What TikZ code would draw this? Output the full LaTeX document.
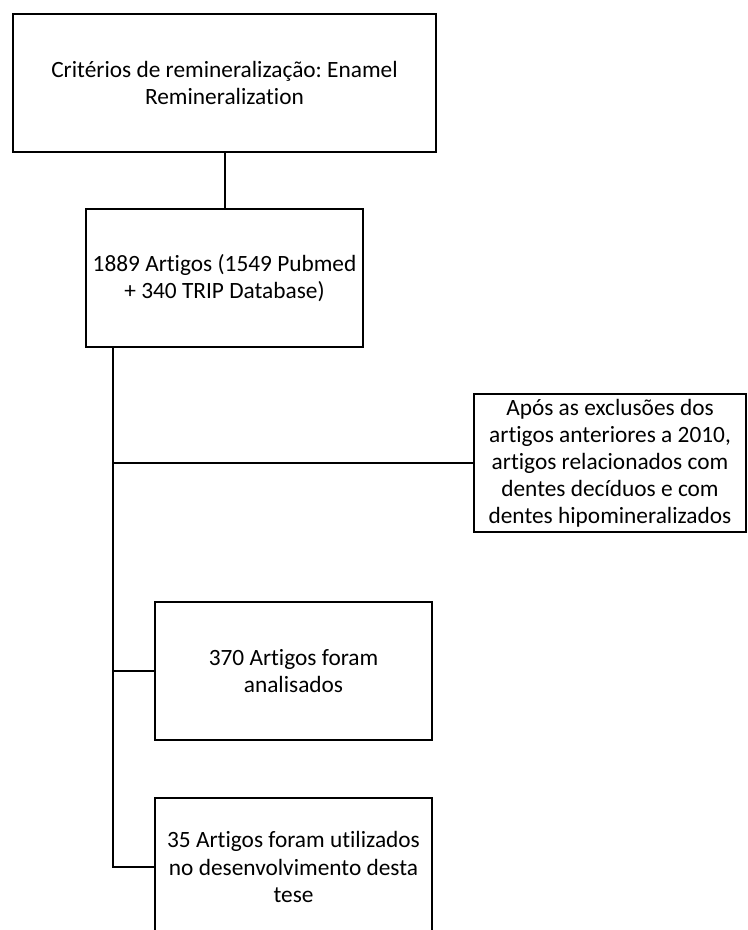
\documentclass[tikz,border=0pt]{standalone}
\usepackage{fontspec}
\setmainfont[Ligatures=NoCommon]{Carlito}
\usepackage{tikz}
\usetikzlibrary{positioning}
\frenchspacing

\begin{document}
\begin{tikzpicture}[
    x=0.75pt, y=-0.75pt,
    stagebox/.style={rectangle, draw=black, line width=1.5pt, fill=white,
                  minimum width=#1, minimum height=103.5pt, inner sep=0pt,
                  align=center, font=\fontsize{17.5}{20.3}\selectfont},
    stagebox/.default=207.75pt,
    link/.style={draw=black, line width=1.5pt},
]
\useasboundingbox (0,0) rectangle (748,930);

\node[stagebox=317.25pt] (crit) at (224.5,83) {Critérios de remineralização: Enamel\\Remineralization};
\node[stagebox] (total) at (224.5,278) {1889 Artigos (1549 Pubmed\\+ 340 TRIP Database)};
\node[stagebox=204pt] (excl) at (610,463) {Após as exclusões dos\\artigos anteriores a 2010,\\artigos relacionados com\\dentes decíduos e com\\dentes hipomineralizados};
\node[stagebox] (anal) at (293.5,671) {370 Artigos foram\\analisados};
\node[stagebox] (used) at (293.5,867) {35 Artigos foram utilizados\\no desenvolvimento desta\\tese};

\coordinate (trunk) at ([xshift=21pt]total.south west);

\draw[link] (crit.south) -- (total.north);
\draw[link] (trunk) |- (excl.west);
\draw[link] (trunk) |- (anal.west);
\draw[link] (trunk) |- (used.west);

\end{tikzpicture}
\end{document}
